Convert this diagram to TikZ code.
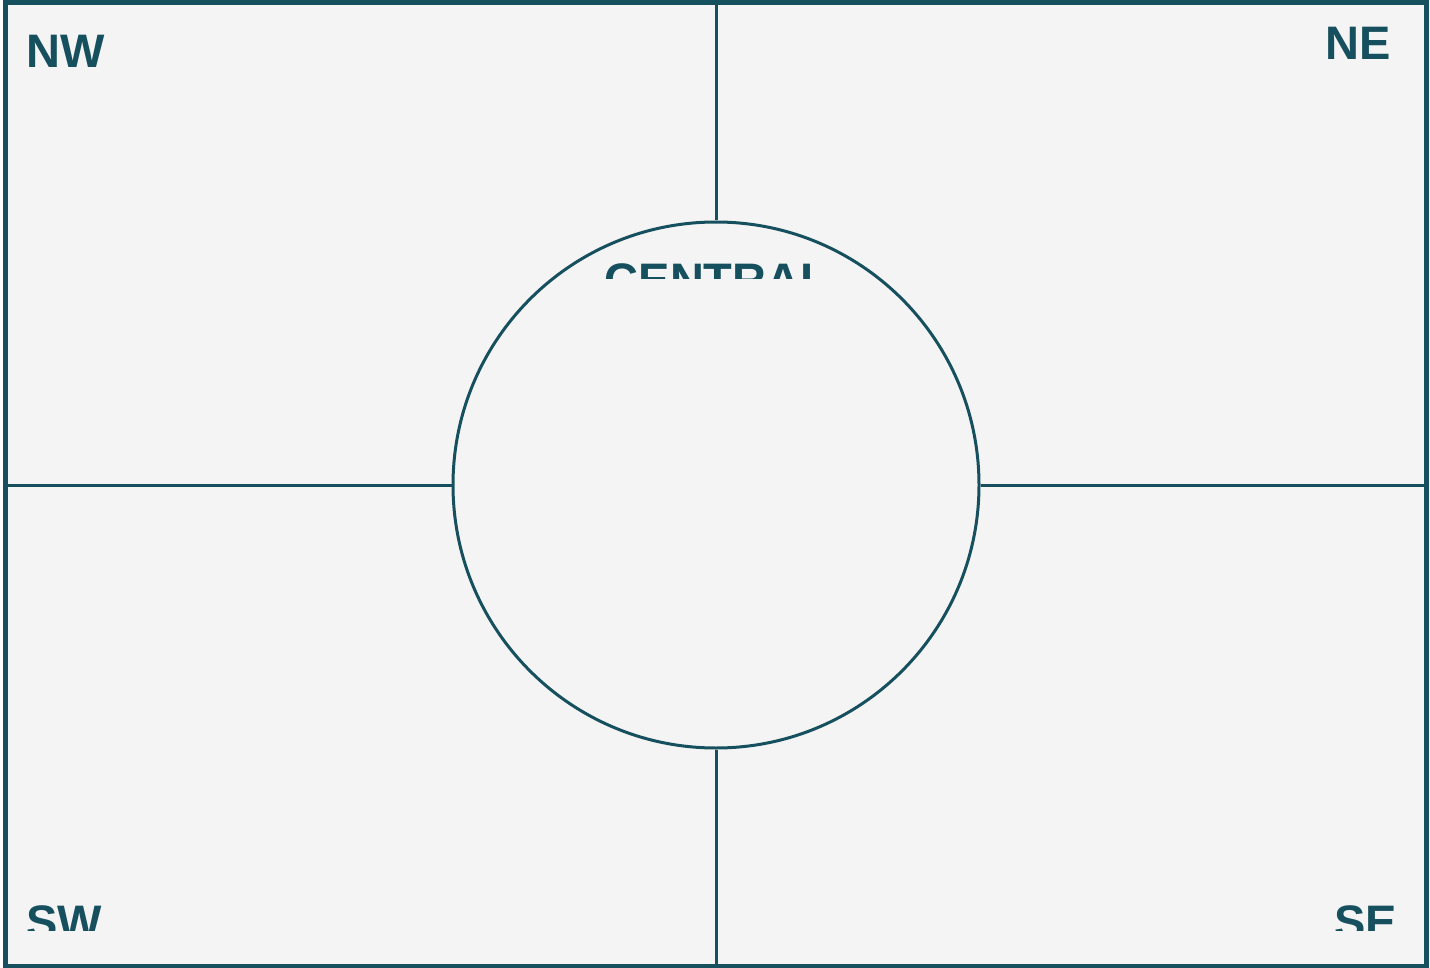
\documentclass[tikz,border=0pt]{standalone}
\usepackage{fontspec}
\setmainfont{Liberation Sans}
\usetikzlibrary{positioning}
\definecolor{teal}{HTML}{16505E}
\definecolor{paper}{HTML}{F4F4F4}

\begin{document}
\begin{tikzpicture}[
  x=1pt, y=-1pt,
  frame/.style={draw=teal, line width=5pt, fill=paper},
  divider/.style={draw=teal, line width=3pt},
  corner/.style={text=teal, font=\bfseries\fontsize{47}{47}\selectfont, inner sep=0pt},
  hub/.style={circle, draw=teal, line width=3pt, fill=paper, minimum size=526pt, inner sep=0pt}
]
\useasboundingbox (0,0) rectangle (1430,968);
\draw[frame] (5,3) rectangle (1426,966);
\coordinate (top) at (716,3);
\coordinate (bottom) at (716,966);
\coordinate (left) at (5,485);
\coordinate (right) at (1426,485);
\node[hub] (c) at (716,485) {};
\draw[divider] (top) -- (c.north);
\draw[divider] (c.south) -- (bottom);
\draw[divider] (left) -- (c.west);
\draw[divider] (c.east) -- (right);
\node[corner, anchor=base west] (nw) at (26,68) {NW};
\node[corner, anchor=base east] (ne) at (1391,60) {NE};
\begin{scope}
  \clip (0,0) rectangle (1430,279);
  \node[corner, anchor=base] (central) at (717,297) {CENTRAL};
\end{scope}
\begin{scope}
  \clip (0,0) rectangle (1430,930);
  \node[corner, anchor=base west] (sw) at (26,938) {SW};
  \node[corner, anchor=base east] (se) at (1397,938) {SE};
\end{scope}
\end{tikzpicture}
\end{document}
